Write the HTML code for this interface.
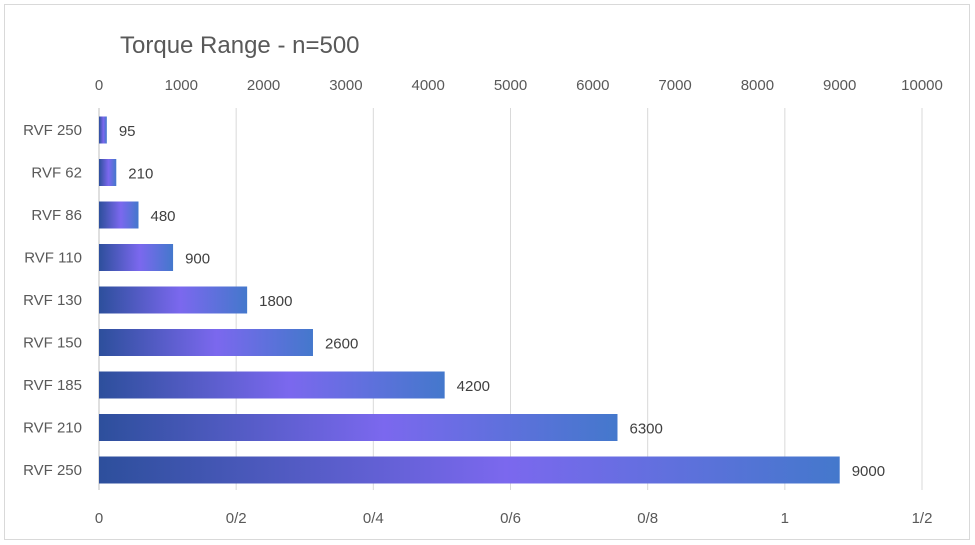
<!DOCTYPE html>
<html><head><meta charset="utf-8"><style>
body{margin:0;background:#fff;}
svg{display:block;font-family:"Liberation Sans",sans-serif;}
</style></head><body>
<svg id="c" width="975" height="545">
<defs>
<linearGradient id="g" x1="0" x2="1" y1="0" y2="0">
<stop offset="0" stop-color="#2d4f9c"/><stop offset="0.55" stop-color="#7b68ee"/><stop offset="1" stop-color="#4478cc"/>
</linearGradient>
</defs>
<rect x="4.5" y="4.5" width="965" height="535" fill="#fff" stroke="#d9d9d9"/>
<text x="120" y="53" font-size="24" fill="#595959">Torque Range - n=500</text>
<g id="grid"></g><g id="bars"></g><g id="labels"></g>
</svg>
<script>
const categories=["RVF 250","RVF 62","RVF 86","RVF 110","RVF 130","RVF 150","RVF 185","RVF 210","RVF 250"];
const values=[95,210,480,900,1800,2600,4200,6300,9000];
const topTicks=[0,1000,2000,3000,4000,5000,6000,7000,8000,9000,10000];
const bottomTicks=[0,0.2,0.4,0.6,0.8,1,1.2];
const bottomTickLabels=["0","0/2","0/4","0/6","0/8","1","1/2"];
const NS="http://www.w3.org/2000/svg";
const x0=99,x1=922;
const xTop=v=>x0+(x1-x0)*v/10000;
const xBot=v=>x0+(x1-x0)*v/1.2;
const yBand=i=>130+i*42.5;
function mk(t,a,p,txt){const e=document.createElementNS(NS,t);for(const k in a)e.setAttribute(k,a[k]);if(txt!=null)e.textContent=txt;document.getElementById(p).appendChild(e);return e;}
bottomTicks.forEach((v,i)=>{
 if(i>0){const l=mk('line',{x1:xBot(v),x2:xBot(v),y1:108,y2:490,stroke:'#d9d9d9'},'grid');
 
 }
 const t=mk('text',{x:xBot(v),y:523,'font-size':15,fill:'#595959','text-anchor':'middle'},'labels',bottomTickLabels[i]);
 
 
});
const ax=mk('line',{x1:x0,x2:x0,y1:108,y2:490,stroke:'#bfbfbf'},'grid');


topTicks.forEach(v=>{
 const t=mk('text',{x:xTop(v),y:90,'font-size':15,fill:'#595959','text-anchor':'middle'},'labels',String(v));
 
 
});
categories.forEach((c,i)=>{
 const y=yBand(i);
 const t=mk('text',{x:82,y:y+5,'font-size':15,fill:'#595959','text-anchor':'end'},'labels',c);
 
 
 const b=mk('rect',{x:x0,y:y-13.5,width:xTop(values[i])-x0,height:27,fill:'url(#g)'},'bars');
 
 
 const v=mk('text',{x:xTop(values[i])+12,y:y+6,'font-size':15,fill:'#404040'},'labels',String(values[i]));
 
 
});
</script>
</body></html>
